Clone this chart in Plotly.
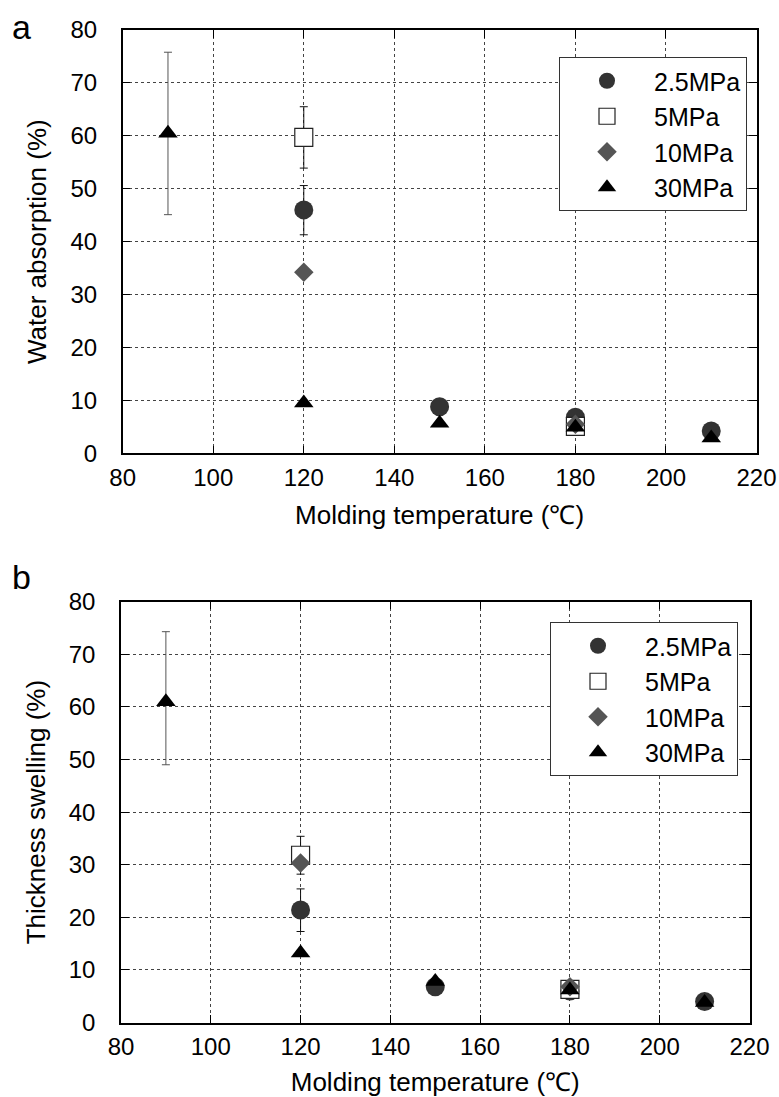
import plotly.graph_objects as go

W, H = 779, 1097

series_names = ["2.5MPa", "5MPa", "10MPa", "30MPa"]

# Panel a: Water absorption (%)
a_x_25 = [120, 150, 180, 210]
a_y_25 = [46.0, 8.8, 6.8, 4.2]
a_ep_25 = [4.6, 0, 0, 0]
a_em_25 = [4.7, 0, 0, 0]

a_x_5 = [120, 180]
a_y_5 = [59.7, 5.1]
a_ep_5 = [5.8, 0]
a_em_5 = [5.8, 0]

a_x_10 = [120, 180]
a_y_10 = [34.2, 5.5]

a_x_30 = [90, 120, 150, 180, 210]
a_y_30 = [60.5, 9.5, 5.7, 4.9, 2.9]
a_ep_30 = [15.3, 0, 0, 0, 0]
a_em_30 = [15.4, 0, 0, 0, 0]

# Panel b: Thickness swelling (%)
b_x_25 = [120, 150, 180, 210]
b_y_25 = [21.4, 6.8, 6.0, 4.0]
b_ep_25 = [4.0, 0, 0, 0]
b_em_25 = [4.1, 0, 0, 0]

b_x_5 = [120, 180]
b_y_5 = [31.8, 6.3]
b_ep_5 = [3.6, 0]
b_em_5 = [3.6, 0]

b_x_10 = [120, 180]
b_y_10 = [30.3, 6.8]

b_x_30 = [90, 120, 150, 180, 210]
b_y_30 = [61.0, 13.2, 7.8, 6.2, 3.8]
b_ep_30 = [13.3, 0, 0, 0, 0]
b_em_30 = [12.0, 0, 0, 0, 0]

x_ticks = [80, 100, 120, 140, 160, 180, 200, 220]
y_ticks = [0, 10, 20, 30, 40, 50, 60, 70, 80]

FONT = "Arial, Liberation Sans, sans-serif"

fig = go.Figure()


def add_panel(xa, ya, leg, d25, d5, d10, d30):
    x25, y25, ep25, em25 = d25
    x5, y5, ep5, em5 = d5
    x10, y10 = d10
    x30, y30, ep30, em30 = d30
    fig.add_trace(go.Scatter(
        x=x25, y=y25, mode="markers", name=series_names[0], xaxis=xa, yaxis=ya, legend=leg,
        marker=dict(symbol="circle", size=19, color="#333333", line=dict(width=0)),
        error_y=dict(type="data", array=ep25, arrayminus=em25, color="#111111", thickness=1, width=4),
    ))
    fig.add_trace(go.Scatter(
        x=x5, y=y5, mode="markers", name=series_names[1], xaxis=xa, yaxis=ya, legend=leg,
        marker=dict(symbol="square", size=18, color="white", line=dict(width=1.2, color="#222222")),
        error_y=dict(type="data", array=ep5, arrayminus=em5, color="#111111", thickness=1, width=4),
    ))
    fig.add_trace(go.Scatter(
        x=x10, y=y10, mode="markers", name=series_names[2], xaxis=xa, yaxis=ya, legend=leg,
        marker=dict(symbol="diamond", size=15, color="#555555", line=dict(width=0)),
    ))
    fig.add_trace(go.Scatter(
        x=x30, y=y30, mode="markers", name=series_names[3], xaxis=xa, yaxis=ya, legend=leg,
        marker=dict(symbol="triangle-up", size=17, color="#000000", line=dict(width=0)),
        error_y=dict(type="data", array=ep30, arrayminus=em30, color="#555555", thickness=1, width=4),
    ))


add_panel("x", "y", "legend",
          (a_x_25, a_y_25, a_ep_25, a_em_25), (a_x_5, a_y_5, a_ep_5, a_em_5),
          (a_x_10, a_y_10), (a_x_30, a_y_30, a_ep_30, a_em_30))
add_panel("x2", "y2", "legend2",
          (b_x_25, b_y_25, b_ep_25, b_em_25), (b_x_5, b_y_5, b_ep_5, b_em_5),
          (b_x_10, b_y_10), (b_x_30, b_y_30, b_ep_30, b_em_30))

axis_common = dict(
    showgrid=True, gridcolor="#444444", gridwidth=1, griddash="3px,3px",
    showline=True, linecolor="black", linewidth=1.5, mirror="ticks",
    ticks="inside", ticklen=8, tickcolor="black", tickwidth=1,
    zeroline=False, automargin=False,
    tickfont=dict(family=FONT, size=24, color="black"),
)
title_font = dict(family=FONT, size=26, color="black")

fig.update_layout(
    width=W, height=H,
    margin=dict(l=0, r=0, t=0, b=0),
    plot_bgcolor="white", paper_bgcolor="white",
    font=dict(family=FONT, color="black"),
    xaxis=dict(axis_common, domain=[122.7 / W, 756.5 / W], range=[80, 220], tickvals=x_ticks,
               anchor="y", ticklabelstandoff=2,
               title=dict(text="Molding temperature (℃)", font=title_font, standoff=16)),
    yaxis=dict(axis_common, domain=[1 - 453.3 / H, 1 - 30 / H], range=[0, 80], tickvals=y_ticks,
               anchor="x", ticklabelstandoff=19,
               title=dict(text="Water absorption (%)", font=title_font, standoff=16)),
    xaxis2=dict(axis_common, domain=[121 / W, 749.5 / W], range=[80, 220], tickvals=x_ticks,
                anchor="y2", ticklabelstandoff=2,
                title=dict(text="Molding temperature (℃)", font=title_font, standoff=16)),
    yaxis2=dict(axis_common, domain=[1 - 1022.5 / H, 1 - 601.7 / H], range=[0, 80], tickvals=y_ticks,
                anchor="x2", ticklabelstandoff=19,
                title=dict(text="Thickness swelling (%)", font=title_font, standoff=16)),
    legend=dict(x=559 / W, y=1 - 57 / H, xanchor="left", yanchor="top",
                bgcolor="white", bordercolor="#333333", borderwidth=1,
                font=dict(family=FONT, size=25, color="black"), itemwidth=84, tracegroupgap=0),
    legend2=dict(x=550 / W, y=1 - 622 / H, xanchor="left", yanchor="top",
                 bgcolor="white", bordercolor="#333333", borderwidth=1,
                 font=dict(family=FONT, size=25, color="black"), itemwidth=84, tracegroupgap=0),
    showlegend=True,
)

fig.add_annotation(text="a", x=10 / W, y=1 - 6 / H, xref="paper", yref="paper",
                   xanchor="left", yanchor="top", showarrow=False,
                   font=dict(family=FONT, size=34, color="black"))
fig.add_annotation(text="b", x=10 / W, y=1 - 556 / H, xref="paper", yref="paper",
                   xanchor="left", yanchor="top", showarrow=False,
                   font=dict(family=FONT, size=34, color="black"))

fig.write_html("out.html")
